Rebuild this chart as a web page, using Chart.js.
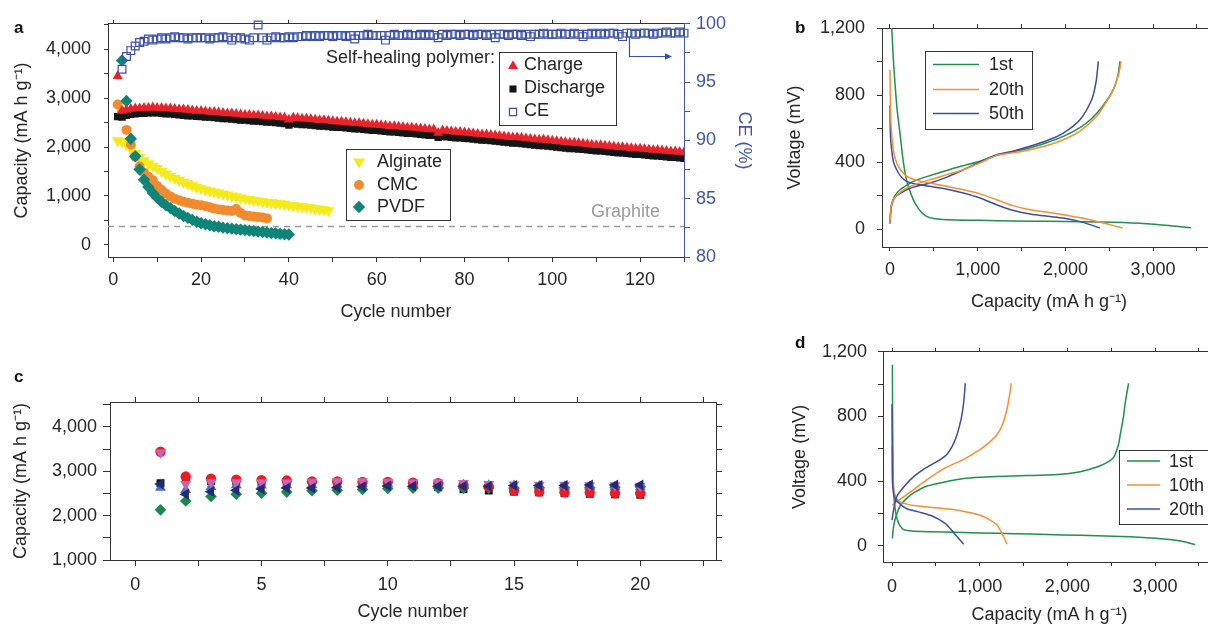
<!DOCTYPE html>
<html><head><meta charset="utf-8">
<title>Self-healing polymer silicon anodes</title>
<script src="https://cdn.jsdelivr.net/npm/chart.js@4.4.1/dist/chart.umd.min.js"></script>
<style>
html,body{margin:0;padding:0;background:#fff;}
body{width:1208px;height:626px;overflow:hidden;position:relative;}
canvas{position:absolute;display:block;}
.lt{position:absolute;font-family:"Liberation Sans",Arial,sans-serif;font-weight:bold;font-size:17px;line-height:17px;color:#111;}
</style></head>
<body>
<canvas id="ca" width="780" height="335" style="left:0;top:0"></canvas>
<canvas id="cb" width="436" height="320" style="left:780px;top:0"></canvas>
<canvas id="cc" width="730" height="266" style="left:0;top:360px"></canvas>
<canvas id="cd" width="436" height="296" style="left:780px;top:330px"></canvas>
<div class="lt" style="left:14px;top:19px">a</div>
<div class="lt" style="left:795px;top:19px">b</div>
<div class="lt" style="left:14px;top:368px">c</div>
<div class="lt" style="left:795px;top:334px">d</div>
<script>
// ---------------- Panel a data (cycle 1..n) ----------------
const chargeSH = [3450,2740,2760,2780,2790,2790,2800,2800,2810,2800,
 2800,2790,2790,2780,2770,2770,2760,2750,2740,2740,
 2730,2720,2720,2710,2700,2690,2690,2680,2670,2660,
 2660,2650,2650,2640,2630,2630,2620,2610,2600,2560,
 2600,2590,2580,2580,2570,2560,2550,2550,2540,2530,
 2520,2520,2510,2500,2490,2490,2480,2470,2460,2460,
 2450,2440,2430,2430,2420,2410,2400,2400,2390,2380,
 2370,2360,2360,2290,2340,2330,2320,2310,2310,2300,
 2290,2280,2270,2260,2260,2250,2240,2230,2220,2210,
 2200,2200,2190,2180,2170,2160,2150,2150,2140,2130,
 2120,2110,2100,2090,2090,2080,2070,2060,2050,2040,
 2040,2030,2020,2010,2000,2000,1990,1980,1970,1970,
 1960,1950,1940,1940,1930,1920,1910,1910,1900,1890];
const dischargeSH = [2620,2610,2650,2670,2680,2690,2690,2700,2700,2700,
 2690,2680,2680,2670,2660,2650,2640,2640,2630,2620,
 2610,2610,2600,2590,2580,2580,2570,2560,2550,2550,
 2540,2530,2530,2520,2510,2510,2500,2490,2480,2450,
 2480,2470,2460,2460,2450,2440,2430,2430,2420,2410,
 2400,2400,2390,2380,2370,2370,2360,2350,2340,2340,
 2330,2320,2310,2310,2300,2290,2280,2280,2270,2260,
 2250,2240,2240,2200,2220,2210,2200,2190,2190,2180,
 2170,2160,2150,2140,2140,2130,2120,2110,2100,2090,
 2080,2080,2070,2060,2050,2040,2030,2030,2020,2010,
 2000,1990,1980,1970,1970,1960,1950,1940,1930,1920,
 1920,1910,1900,1890,1880,1880,1870,1860,1850,1850,
 1840,1830,1820,1820,1810,1800,1790,1790,1780,1770];
// CE starts at cycle 2
const ceSH = [96.1,97.2,97.7,98.1,98.4,98.5,98.7,98.6,98.7,
 98.8,98.7,98.8,98.9,98.8,98.8,98.7,98.8,98.8,98.8,
 98.8,98.7,98.8,98.8,98.9,98.8,98.6,98.8,98.8,98.7,
 98.6,98.8,99.9,98.8,98.6,98.8,98.9,98.8,98.8,98.9,
 98.8,98.9,98.9,99.0,98.9,99.0,98.9,99.0,99.0,98.9,
 99.0,99.0,98.9,99.0,98.7,99.0,99.0,99.1,99.0,99.0,
 99.0,98.6,99.0,99.1,99.0,99.0,99.1,99.0,99.0,99.1,
 99.0,99.1,99.0,98.8,99.1,99.0,99.1,99.1,99.0,99.1,
 99.1,99.0,99.1,99.1,99.0,99.1,98.8,99.1,99.1,99.0,
 99.1,99.1,99.0,99.1,98.9,99.1,99.1,99.2,99.1,99.1,
 99.1,99.2,99.1,99.1,99.2,99.1,98.9,99.1,99.2,99.1,
 99.2,99.1,99.2,99.2,99.1,98.9,99.2,99.2,99.1,99.2,
 99.2,99.2,99.1,99.2,99.2,99.3,99.2,99.2,99.3,99.2];
const alginate = [2130,2110,2050,1960,1870,1790,1720,1660,1610,1560,
 1500,1450,1400,1360,1320,1280,1250,1210,1180,1150,
 1120,1100,1080,1060,1040,1020,1000,980,960,940,
 930,910,900,880,870,860,850,840,830,810,
 800,790,780,770,760,740,730,720,700];
const cmc = [2870,2720,2350,2050,1800,1600,1480,1390,1320,1200,
 1120,1050,990,940,910,880,860,840,820,810,
 790,770,740,720,710,700,690,730,650,600,
 590,580,570,560,540];
// PVDF starts at cycle 2
const pvdf = [3770,2940,2170,1810,1540,1330,1180,1060,960,
 880,810,750,690,640,590,550,510,470,440,
 420,400,380,370,350,340,330,320,310,300,
 290,280,270,260,250,240,235,225,215,210];
const graphiteCapacity = 372;
const cycleRangeA = [-1.2, 130];

// ---------------- Panel b data (capacity mAh/g, voltage mV) ----------------
const b1DisX = [10,20,40,57,80,114,140,160,185,209,250,285,350,418,500,646,1026,1400,1786,2200,2546,2926,3200,3431];
const b1DisY = [1300,1200,1000,872,720,573,450,374,300,255,195,155,105,76,63,56,52,48,46,43,40,32,20,8];
const b1ChX = [0,8,19,57,114,190,266,400,646,850,1026,1216,1406,1600,1786,1976,2166,2300,2420,2546,2600,2622];
const b1ChY = [36,110,150,200,235,262,285,310,350,380,405,440,462,485,515,553,605,660,730,832,920,1001];
const b20DisX = [0,2,8,20,38,60,95,140,190,300,456,650,836,1026,1216,1400,1596,1800,1976,2200,2356,2500,2649];
const b20DisY = [951,850,673,560,474,420,374,340,314,292,275,255,235,210,175,140,115,100,86,65,46,28,6];
const b20ChX = [0,8,20,57,120,190,300,456,650,836,1026,1216,1400,1596,1800,1976,2166,2356,2470,2546,2610,2635];
const b20ChY = [36,110,150,190,220,245,268,295,325,354,395,440,455,474,500,533,585,673,760,832,930,1001];
const b50DisX = [0,5,19,40,76,130,190,300,456,650,836,1026,1216,1400,1596,1800,1976,2200,2394];
const b50DisY = [740,560,474,400,354,310,285,268,255,238,215,185,145,112,90,76,66,40,6];
const b50ChX = [0,8,20,57,120,190,300,456,650,836,1026,1216,1400,1596,1800,1976,2166,2299,2350,2375];
const b50ChY = [32,100,145,190,215,235,255,275,310,354,400,444,465,494,530,573,653,772,880,1001];

// ---------------- Panel c data (cycles 1..20) ----------------
const cCycles = [1,2,3,4,5,6,7,8,9,10,11,12,13,14,15,16,17,18,19,20];
const cRed = [3440,2880,2830,2810,2800,2790,2770,2770,2760,2760,2740,2730,2690,2660,2560,2540,2525,2520,2505,2500];
const cBlack = [2730,2840,2780,2770,2760,2750,2730,2720,2700,2690,2670,2640,2595,2565,2540,2525,2505,2490,2480,2470];
const cPink = [3420,2710,2750,2750,2750,2745,2760,2770,2770,2760,2745,2745,2730,2710,2700,2690,2690,2680,2680,2670];
const cLightBlue = [2630,2580,2650,2690,2680,2690,2690,2700,2720,2720,2710,2700,2690,2680,2670,2660,2650,2650,2640,2640];
const cNavy = [2710,2480,2540,2570,2600,2620,2620,2630,2650,2670,2660,2660,2660,2660,2680,2680,2680,2690,2690,2690];
const cGreen = [2130,2330,2430,2480,2505,2530,2560,2570,2590,2610,2620,2620,2620,2620,2620,2630,2630,2630,2640,2650];

// ---------------- Panel d data ----------------
const d1DisX = [4,5,8,12,19,35,57,90,133,200,247,600,1007,1400,1767,2150,2527,2907,3100,3287,3458];
const d1DisY = [1120,950,687,500,328,230,169,125,100,93,90,85,80,75,70,65,60,50,42,30,8];
const d1ChX = [4,15,38,95,170,247,400,627,800,1007,1400,1767,2000,2147,2337,2450,2527,2580,2603,2640,2660,2698];
const d1ChY = [46,110,169,249,295,328,370,398,415,424,432,438,446,458,488,515,547,620,687,800,886,1005];
const d10DisX = [4,8,19,50,95,170,247,400,627,800,1007,1100,1197,1260,1311];
const d10DisY = [620,450,348,295,269,258,249,240,229,215,189,165,129,70,10];
const d10ChX = [4,40,95,170,247,400,627,800,1007,1100,1197,1260,1311,1340,1360];
const d10ChY = [249,270,289,318,348,410,488,530,597,635,687,750,846,930,1005];
const d20DisX = [0,2,4,15,38,100,171,300,437,530,627,720,817];
const d20DisY = [876,600,408,330,289,255,229,210,189,165,129,70,10];
const d20ChX = [0,20,57,150,247,350,437,540,627,690,741,790,817,836];
const d20ChY = [159,230,308,375,428,470,498,530,567,620,687,790,886,1005];

// ---------------- styling ----------------
const FONT = '"Liberation Sans", Arial, Helvetica, sans-serif';
const TXT = '#262626', FRAME = '#333333', AXBLUE = '#4257a6';
const RED = '#e8232b', BLK = '#151515', CEBLUE = '#3a50a8', YEL = '#f4ea1c', ORA = '#f28a2e', TEAL = '#0f8479';
const LGREEN = '#21904a', LORANGE = '#f58f38', LBLUE = '#3b4ea1';
const C_RED = '#ec1c24', C_BLK = '#141414', C_PINK = '#c466b4', C_LB = '#4b6fc4', C_NAVY = '#232a7a', C_GREEN = '#18894a';

Chart.defaults.font.family = FONT;
Chart.defaults.font.size = 18;
Chart.defaults.color = TXT;
Chart.defaults.animation = false;

function seq(vals, start) { return vals.map((v, i) => ({x: start + i, y: v})); }
function pts(xs, ys) { return xs.map((x, i) => ({x: x, y: ys[i]})); }
function fmt(v) { const r = Math.round(v); return (r === 0 ? 0 : r).toLocaleString('en-US'); }
function tickVals(min, max, step) {
  const out = [];
  for (let k = Math.ceil(min / step - 1e-9); k * step <= max + 1e-9; k++) out.push((Math.round(k * step * 1000) / 1000) || 0);
  return out;
}

function axis(o) {
  const col = o.color || FRAME;
  return {
    type: 'linear', position: o.pos, min: o.min, max: o.max,
    ticks: {display: o.labels !== false, autoSkip: false, includeBounds: false,
      maxRotation: 0, minRotation: 0, padding: o.pad || 0, color: o.color || TXT,
      callback: (v) => (o.major && Math.abs(v / o.major - Math.round(v / o.major)) < 1e-6) ? fmt(v) : ''},
    afterBuildTicks: (s) => { s.ticks = tickVals(o.min, o.max, o.step).map(v => ({value: v})); },
    grid: {display: true, drawOnChartArea: false, drawTicks: true, tickLength: o.tl, color: col, lineWidth: 1},
    border: {display: true, color: col, width: 1},
    title: o.title ? {display: true, text: o.title, color: o.color || TXT, padding: o.tpad} : {display: false},
    afterFit: (s) => { if (o.w !== undefined) s.width = o.w; if (o.h !== undefined) s.height = o.h; }
  };
}

function overlay(id, draw) {
  return {id: id, afterDraw(chart) { const ctx = chart.ctx; ctx.save(); draw(ctx, chart); ctx.restore(); }};
}
function mark(ctx, style, r, rot, fill, stroke, bw, x, y) {
  ctx.fillStyle = fill; ctx.strokeStyle = stroke; ctx.lineWidth = bw;
  Chart.helpers.drawPoint(ctx, {pointStyle: style, radius: r, rotation: rot, borderWidth: bw}, x, y);
}
function label(ctx, t, x, y, color, align) {
  ctx.fillStyle = color || TXT; ctx.font = '18px ' + FONT; ctx.textAlign = align || 'left'; ctx.textBaseline = 'middle';
  ctx.fillText(t, x, y);
}
function lineKey(ctx, color, x1, x2, y) {
  ctx.strokeStyle = color; ctx.lineWidth = 1.6; ctx.beginPath(); ctx.moveTo(x1, y); ctx.lineTo(x2, y); ctx.stroke();
}

const baseOpts = {responsive: false, animation: false, events: [], layout: {padding: 0},
  plugins: {legend: {display: false}, tooltip: {enabled: false}}};

// ---------------- Panel a ----------------
const overlayA = overlay('overlayA', (ctx) => {
  label(ctx, 'Self-healing polymer:', 495, 58, TXT, 'right');
  ctx.strokeStyle = FRAME; ctx.lineWidth = 1; ctx.strokeRect(499.5, 52.5, 117, 73);
  mark(ctx, 'triangle', 5.8, 0, RED, RED, 0, 513, 66);
  label(ctx, 'Charge', 524, 65);
  mark(ctx, 'rect', 5, 0, BLK, BLK, 0, 513, 89);
  label(ctx, 'Discharge', 524, 88);
  mark(ctx, 'rect', 5, 0, 'rgba(0,0,0,0)', CEBLUE, 1.2, 513, 112);
  label(ctx, 'CE', 524, 111);
  ctx.strokeStyle = FRAME; ctx.lineWidth = 1; ctx.strokeRect(346.5, 149.5, 104, 71);
  mark(ctx, 'triangle', 6.8, 180, YEL, YEL, 0, 359, 162);
  label(ctx, 'Alginate', 377, 162);
  mark(ctx, 'circle', 5, 0, ORA, ORA, 0, 359, 185);
  label(ctx, 'CMC', 377, 185);
  mark(ctx, 'rectRot', 6.2, 0, TEAL, TEAL, 0, 359, 207);
  label(ctx, 'PVDF', 377, 207);
  label(ctx, 'Graphite', 591, 212, '#9b9b9b');
  ctx.strokeStyle = CEBLUE; ctx.fillStyle = CEBLUE; ctx.lineWidth = 1.2;
  ctx.beginPath(); ctx.moveTo(629.5, 37); ctx.lineTo(629.5, 56.5); ctx.lineTo(666, 56.5); ctx.stroke();
  ctx.beginPath(); ctx.moveTo(672, 56.5); ctx.lineTo(665, 53.3); ctx.lineTo(665, 59.7); ctx.closePath(); ctx.fill();
});

new Chart(document.getElementById('ca'), {
  type: 'scatter',
  data: {datasets: [
    {label: 'CE', data: seq(ceSH, 2), yAxisID: 'ce', pointStyle: 'rect', pointRadius: 5.5, backgroundColor: 'rgba(255,255,255,0)', borderColor: CEBLUE, borderWidth: 1.2, clip: false},
    {label: 'Charge', data: seq(chargeSH, 1), pointStyle: 'triangle', pointRadius: 5.8, backgroundColor: RED, borderColor: RED, borderWidth: 0},
    {label: 'Discharge', data: seq(dischargeSH, 1), pointStyle: 'rect', pointRadius: 5.2, backgroundColor: BLK, borderColor: BLK, borderWidth: 0},
    {label: 'PVDF', data: seq(pvdf, 2), pointStyle: 'rectRot', pointRadius: 6.2, backgroundColor: TEAL, borderColor: TEAL, borderWidth: 0},
    {label: 'CMC', data: seq(cmc, 1), pointStyle: 'circle', pointRadius: 5, backgroundColor: ORA, borderColor: ORA, borderWidth: 0},
    {label: 'Alginate', data: seq(alginate, 1), pointStyle: 'triangle', pointRotation: 180, pointRadius: 6.8, backgroundColor: YEL, borderColor: YEL, borderWidth: 0},
    {label: 'Graphite', data: [{x: cycleRangeA[0], y: graphiteCapacity}, {x: cycleRangeA[1], y: graphiteCapacity}], showLine: true, pointRadius: 0, borderColor: '#9b9b9b', borderWidth: 1.5, borderDash: [6, 5]}
  ]},
  options: Object.assign({}, baseOpts, {
    scales: {
      x: axis({pos: 'bottom', min: cycleRangeA[0], max: cycleRangeA[1], step: 10, major: 20, tl: 5, pad: 7, title: 'Cycle number', tpad: {top: 0, bottom: 12}, h: 78}),
      xTop: axis({pos: 'top', min: cycleRangeA[0], max: cycleRangeA[1], step: 20, labels: false, tl: 4, h: 21}),
      y: axis({pos: 'left', min: -250, max: 4520, step: 500, major: 1000, tl: 4, pad: 13, title: 'Capacity (mA h g\u207B\u00B9)', tpad: {top: 11, bottom: 0}, w: 108}),
      ce: axis({pos: 'right', min: 80, max: 100, step: 2.5, major: 5, tl: 6, pad: 6, color: AXBLUE, title: 'CE (%)', tpad: {top: 25, bottom: 0}, w: 96})
    }
  }),
  plugins: [overlayA]
});

// ---------------- Panel b ----------------
function vline(xs, ys, color) {
  return {data: pts(xs, ys), showLine: true, pointRadius: 0, borderColor: color, borderWidth: 1.5, tension: 0.25, fill: false};
}
const overlayB = overlay('overlayB', (ctx) => {
  ctx.strokeStyle = FRAME; ctx.lineWidth = 1; ctx.strokeRect(145.5, 51.5, 107, 78);
  lineKey(ctx, LGREEN, 153, 199, 64.5); label(ctx, '1st', 209, 65);
  lineKey(ctx, LORANGE, 153, 199, 89.5); label(ctx, '20th', 209, 90);
  lineKey(ctx, LBLUE, 153, 199, 113.5); label(ctx, '50th', 209, 114);
});
new Chart(document.getElementById('cb'), {
  type: 'scatter',
  data: {datasets: [
    Object.assign({label: '20th discharge'}, vline(b20DisX, b20DisY, LORANGE)),
    Object.assign({label: '20th charge'}, vline(b20ChX, b20ChY, LORANGE)),
    Object.assign({label: '50th discharge'}, vline(b50DisX, b50DisY, LBLUE)),
    Object.assign({label: '50th charge'}, vline(b50ChX, b50ChY, LBLUE)),
    Object.assign({label: '1st discharge'}, vline(b1DisX, b1DisY, LGREEN)),
    Object.assign({label: '1st charge'}, vline(b1ChX, b1ChY, LGREEN))
  ]},
  options: Object.assign({}, baseOpts, {
    scales: {
      x: axis({pos: 'bottom', min: -91, max: 3717, step: 500, major: 1000, tl: 4, pad: 8, title: 'Capacity (mA h g\u207B\u00B9)', tpad: {top: 0, bottom: 7}, h: 73}),
      xTop: axis({pos: 'top', min: -91, max: 3717, step: 500, labels: false, tl: 4, h: 28}),
      y: axis({pos: 'left', min: -107, max: 1200, step: 200, major: 400, tl: 5, pad: 12, title: 'Voltage (mV)', tpad: {top: 4, bottom: 0}, w: 102})
    }
  }),
  plugins: [overlayB]
});

// ---------------- Panel c ----------------
function cset(lbl, vals, style, rot, r, color) {
  return {label: lbl, data: pts(cCycles, vals), pointStyle: style, pointRotation: rot, pointRadius: r, backgroundColor: color, borderColor: color, borderWidth: 0};
}
new Chart(document.getElementById('cc'), {
  type: 'scatter',
  data: {datasets: [
    cset('cell 6', cNavy, 'triangle', 270, 6.3, C_NAVY),
    cset('cell 5', cPink, 'triangle', 180, 6.3, C_PINK),
    cset('cell 2', cRed, 'circle', 0, 5.2, C_RED),
    cset('cell 3', cLightBlue, 'triangle', 0, 6.3, C_LB),
    cset('cell 4', cGreen, 'rectRot', 0, 5.8, C_GREEN),
    cset('cell 1', cBlack, 'rect', 0, 5.6, C_BLK)
  ]},
  options: Object.assign({}, baseOpts, {
    scales: {
      x: axis({pos: 'bottom', min: -1, max: 23, step: 2.5, major: 5, tl: 6, pad: 8, title: 'Cycle number', tpad: {top: 0, bottom: 3}, h: 66}),
      xTop: axis({pos: 'top', min: -1, max: 23, step: 2.5, labels: false, tl: 5, h: 42}),
      y: axis({pos: 'left', min: 1000, max: 4560, step: 500, major: 1000, tl: 7, pad: 6, title: 'Capacity (mA h g\u207B\u00B9)', tpad: {top: 10, bottom: 0}, w: 110}),
      yR: axis({pos: 'right', min: 1000, max: 4560, step: 500, labels: false, tl: 6, w: 14})
    }
  })
});

// ---------------- Panel d ----------------
const overlayD = overlay('overlayD', (ctx) => {
  ctx.strokeStyle = FRAME; ctx.lineWidth = 1; ctx.strokeRect(339.5, 120.5, 130, 74);
  lineKey(ctx, LGREEN, 347, 380, 131); label(ctx, '1st', 389, 132);
  lineKey(ctx, LORANGE, 347, 380, 155); label(ctx, '10th', 389, 156);
  lineKey(ctx, LBLUE, 347, 380, 179); label(ctx, '20th', 389, 180);
});
new Chart(document.getElementById('cd'), {
  type: 'scatter',
  data: {datasets: [
    Object.assign({label: '20th discharge'}, vline(d20DisX, d20DisY, LBLUE)),
    Object.assign({label: '20th charge'}, vline(d20ChX, d20ChY, LBLUE)),
    Object.assign({label: '10th discharge'}, vline(d10DisX, d10DisY, LORANGE)),
    Object.assign({label: '10th charge'}, vline(d10ChX, d10ChY, LORANGE)),
    Object.assign({label: '1st discharge'}, vline(d1DisX, d1DisY, LGREEN)),
    Object.assign({label: '1st charge'}, vline(d1ChX, d1ChY, LGREEN))
  ]},
  options: Object.assign({}, baseOpts, {
    scales: {
      x: axis({pos: 'bottom', min: -103, max: 3695, step: 500, major: 1000, tl: 4, pad: 10, title: 'Capacity (mA h g\u207B\u00B9)', tpad: {top: 0, bottom: 0}, h: 64}),
      xTop: axis({pos: 'top', min: -103, max: 3695, step: 500, labels: false, tl: 4, h: 14}),
      y: axis({pos: 'left', min: -100, max: 1200, step: 200, major: 400, tl: 5, pad: 11, title: 'Voltage (mV)', tpad: {top: 9, bottom: 0}, w: 103})
    }
  }),
  plugins: [overlayD]
});
</script>
</body></html>
